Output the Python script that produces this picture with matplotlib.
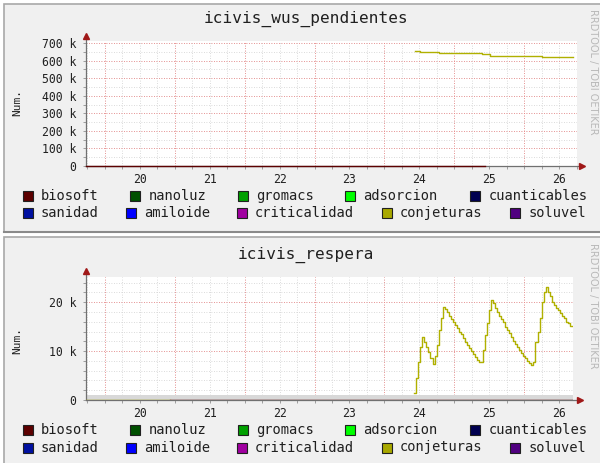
import numpy as np
import matplotlib
matplotlib.use('Agg')
import matplotlib.pyplot as plt
from matplotlib.patches import Rectangle

W, H = 600, 463
MONO = 'DejaVu Sans Mono'

# legend entries (shared by both panels)
SERIES = ['biosoft', 'nanoluz', 'gromacs', 'adsorcion', 'cuanticables',
          'sanidad', 'amiloide', 'criticalidad', 'conjeturas', 'soluvel']
COLORS = ['#5c0000', '#005000', '#00a000', '#00ff00', '#000050',
          '#0010a0', '#0000ff', '#a000a0', '#a8a800', '#500080']

DAY_LABELS = [20, 21, 22, 23, 24, 25, 26]

# top panel: icivis_wus_pendientes (conjeturas, thousands)
top_t = [23.943, 24.004, 24.276, 24.895, 25.014, 25.752, 26.20]
top_v = [656, 649, 643, 636, 628, 620, 620]
top_zero_t = [19.23, 24.94]          # biosoft sitting on 0

# bottom panel: icivis_respera (conjeturas, thousands)
bot_start = 23.929
bot_step = 0.0289
bot_v = [1.4, 4.4, 7.8, 10.9, 12.8, 11.9, 10.9, 9.9, 8.5, 7.3,
         8.9, 11.2, 14.3, 16.7, 19.1, 18.5, 17.9, 17.2, 16.5, 16.0,
         15.3, 14.7, 14.0, 13.5, 12.6, 11.9, 11.2, 10.6, 10.1, 9.4,
         8.7, 8.2, 7.7, 7.7, 10.2, 13.3, 15.7, 18.4, 20.4, 19.8,
         18.8, 17.9, 17.2, 16.6, 15.9, 15.0, 14.3, 13.6, 12.8, 12.1,
         11.5, 10.9, 10.2, 9.7, 9.0, 8.5, 8.0, 7.5, 7.2, 7.8,
         11.9, 14.0, 16.7, 20.1, 22.1, 23.0, 22.1, 21.3, 20.1, 19.4,
         18.8, 18.3, 17.7, 17.2, 16.7, 16.0, 15.7, 15.1]
bot_zero_conj_t = [19.23, 20.43]
bot_zero_bio_t = [20.43, 26.2]
bot_band = 1.0                        # light gray band 0..1k


def fx(x):
    return x / W


def fy(y):
    return 1 - y / H


def make_axes(fig, left, right, top, bottom):
    return fig.add_axes([fx(left), fy(bottom), (right - left) / W, (bottom - top) / H])


def draw_panel(fig, top, bottom, border_bottom):
    rect = Rectangle((fx(4), fy(bottom)), fx(600), (bottom - top) / H,
                     transform=fig.transFigure, facecolor='#f0f0f0',
                     edgecolor='#a8a8a8', linewidth=1.2, zorder=-2)
    fig.patches.append(rect)
    if border_bottom:
        fig.add_artist(plt.Line2D([fx(4), 1], [fy(bottom), fy(bottom)],
                                  transform=fig.transFigure, color='#8a8a8a', lw=1.5,
                                  zorder=-1))


def style_axes(ax, xlim, ylim, ymajor, yminor, ylabels, ext_top_px, ext_right_px):
    ax.set_facecolor('white')
    ax.set_xlim(*xlim)
    ax.set_ylim(*ylim)
    for s in ax.spines.values():
        s.set_visible(False)

    xminor = np.arange(19.25, xlim[1], 0.25)
    xmajor = np.arange(19.5, xlim[1], 1.0)
    for x in xminor:
        ax.axvline(x, color='#cfcfcf', lw=0.6, ls=(0, (1, 2)), zorder=0.5)
    for y in yminor:
        ax.axhline(y, color='#cfcfcf', lw=0.6, ls=(0, (1, 2)), zorder=0.5)
    for x in xmajor:
        ax.axvline(x, color='#f08080', lw=0.6, ls=(0, (1, 2)), zorder=0.6)
    for y in ymajor:
        if y > 0:
            ax.axhline(y, color='#f08080', lw=0.6, ls=(0, (1, 2)), zorder=0.6)

    ax.set_xticks(DAY_LABELS)
    ax.set_xticklabels([str(d) for d in DAY_LABELS], fontsize=8.3, family=MONO, color='#202020')
    ax.set_xticks(xminor, minor=True)
    ax.set_yticks(ymajor)
    ax.set_yticklabels(ylabels, fontsize=8.3, family=MONO, color='#202020')
    ax.set_yticks(yminor, minor=True)
    ax.tick_params(axis='both', which='both', direction='out', length=2,
                   width=0.6, color='#909090')
    ax.tick_params(axis='x', which='major', pad=3)
    ax.tick_params(axis='y', which='major', pad=5)

    # axis lines with arrows
    pos = ax.get_position()
    ext_y = ext_top_px / (pos.height * H)
    ext_x = ext_right_px / (pos.width * W)
    ax.plot([0, 0], [0, 1 + ext_y], transform=ax.transAxes, color='#707070',
            lw=0.9, clip_on=False, zorder=3)
    ax.plot([0, 1 + ext_x], [0, 0], transform=ax.transAxes, color='#707070',
            lw=0.9, clip_on=False, zorder=3)
    ax.plot(0, 1 + ext_y, transform=ax.transAxes, marker='^', ms=5,
            color='#a01818', clip_on=False, zorder=4)
    ax.plot(1 + ext_x, 0, transform=ax.transAxes, marker='>', ms=5,
            color='#a01818', clip_on=False, zorder=4)


def draw_legend(fig, y1, y2):
    sq1 = [22.7, 130, 238, 345, 470]
    sq2 = [22.7, 125.7, 236.7, 381.7, 510]
    for i, name in enumerate(SERIES):
        row = i // 5
        col = i % 5
        x = (sq1 if row == 0 else sq2)[col]
        y = y1 if row == 0 else y2
        fig.patches.append(Rectangle((fx(x), fy(y + 5)), 10 / W, 10 / H,
                                     transform=fig.transFigure, facecolor=COLORS[i],
                                     edgecolor='#202020', linewidth=0.8, zorder=2))
        fig.text(fx(x + 18.3), fy(y), name, fontsize=9.9, family=MONO,
                 va='center', ha='left', color='#202020')


fig = plt.figure(figsize=(W / 100, H / 100), dpi=100)
fig.patch.set_facecolor('white')

# ---- top panel
draw_panel(fig, 4, 231.5, True)
ax1 = make_axes(fig, 86, 577, 40.5, 166)
ymaj1 = np.arange(0, 701, 100)
ymin1 = np.arange(50, 701, 50)
style_axes(ax1, (19.229, 26.257), (0, 715), ymaj1, ymin1,
           ['0'] + [f'{v} k' for v in ymaj1[1:]], 5, 5)
ax1.plot(top_zero_t, [0, 0], color=COLORS[0], lw=1.0, zorder=3.5, clip_on=False)
ax1.plot(top_t, top_v, drawstyle='steps-post', color='#b0b000', lw=1.0, zorder=5)
fig.text(fx(306), fy(19), 'icivis_wus_pendientes', fontsize=11.6, family=MONO,
         ha='center', va='center', color='#202020')
fig.text(fx(17), fy(102), 'Num.', fontsize=8, family=MONO, rotation=90,
         ha='center', va='center', color='#202020')
fig.text(fx(593), fy(9), 'RRDTOOL / TOBI OETIKER', fontsize=7, family='DejaVu Sans',
         rotation=270, ha='center', va='top', color='#b8b8b8')
draw_legend(fig, 196, 213)

# ---- bottom panel
draw_panel(fig, 237, 470, False)
ax2 = make_axes(fig, 86, 573, 276.7, 400)
ymaj2 = np.arange(0, 21, 10)
ymin2 = np.arange(2, 25, 2)
style_axes(ax2, (19.229, 26.2), (0, 25.2), ymaj2, ymin2,
           ['0', '10 k', '20 k'], 6, 7)
ax2.axhspan(0, bot_band, color='#d8d8d8', zorder=0.7, lw=0)
bot_t = bot_start + bot_step * np.arange(len(bot_v) + 1)
ax2.plot(bot_t, bot_v + [bot_v[-1]], drawstyle='steps-post', color='#b0b000', lw=1.0, zorder=5)
ax2.plot(bot_zero_conj_t, [0, 0], color='#b0b000', lw=1.0, zorder=3.5)
ax2.plot(bot_zero_bio_t, [0, 0], color=COLORS[0], lw=1.0, zorder=3.5)
fig.text(fx(306), fy(255), 'icivis_respera', fontsize=11.6, family=MONO,
         ha='center', va='center', color='#202020')
fig.text(fx(17), fy(340), 'Num.', fontsize=8, family=MONO, rotation=90,
         ha='center', va='center', color='#202020')
fig.text(fx(593), fy(243), 'RRDTOOL / TOBI OETIKER', fontsize=7, family='DejaVu Sans',
         rotation=270, ha='center', va='top', color='#b8b8b8')
draw_legend(fig, 430, 447.5)

fig.savefig('out.png', dpi=100)
